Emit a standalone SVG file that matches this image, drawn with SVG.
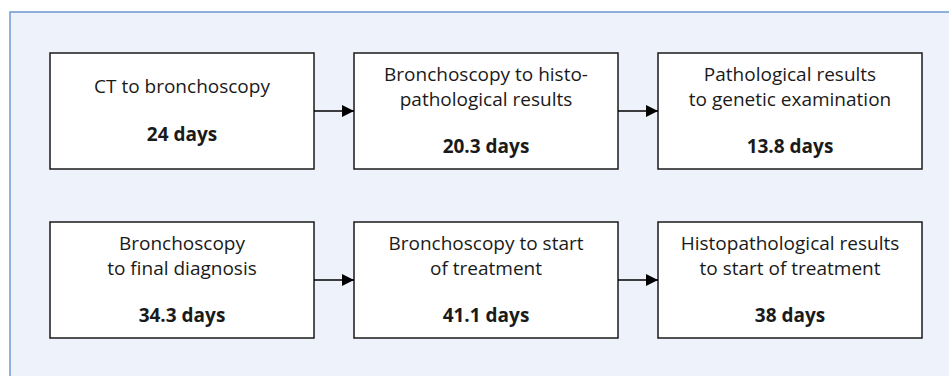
<svg xmlns="http://www.w3.org/2000/svg" width="949" height="376" viewBox="0 0 949 376">
<style>
.box{fill:#ffffff;stroke:#1a1a1a;stroke-width:1.5}
.t{font-family:"Open Sans","Noto Sans","DejaVu Sans",sans-serif;font-size:19px;fill:#1a1a1a;text-anchor:middle}
.b{font-weight:bold}
.c{stroke:#000;stroke-width:1.4;fill:none}
</style>
<defs>
<marker id="ah" markerWidth="12" markerHeight="12" refX="12" refY="6" orient="auto" markerUnits="userSpaceOnUse">
<path d="M0,0 L12,6 L0,12 Z" fill="#000"/>
</marker>
</defs>
<rect x="0" y="0" width="949" height="376" fill="#ffffff"/>
<rect x="10" y="12" width="950" height="380" fill="#eef2fa" stroke="#6d98d0" stroke-width="1.5"/>
<g id="n1"><rect class="box" x="50" y="53" width="264" height="116"/>
<text class="t" x="182" y="93">CT to bronchoscopy</text>
<text class="t b" x="182" y="141">24 days</text></g>
<g id="n2"><rect class="box" x="354" y="53" width="264" height="116"/>
<text class="t" x="486" y="81">Bronchoscopy to histo-</text>
<text class="t" x="486" y="105.5">pathological results</text>
<text class="t b" x="486" y="153">20.3 days</text></g>
<g id="n3"><rect class="box" x="658" y="53" width="264" height="116"/>
<text class="t" x="790" y="81">Pathological results</text>
<text class="t" x="790" y="105.5">to genetic examination</text>
<text class="t b" x="790" y="153">13.8 days</text></g>
<g id="n4"><rect class="box" x="50" y="222" width="264" height="116"/>
<text class="t" x="182" y="250">Bronchoscopy</text>
<text class="t" x="182" y="274.5">to final diagnosis</text>
<text class="t b" x="182" y="322">34.3 days</text></g>
<g id="n5"><rect class="box" x="354" y="222" width="264" height="116"/>
<text class="t" x="486" y="250">Bronchoscopy to start</text>
<text class="t" x="486" y="274.5">of treatment</text>
<text class="t b" x="486" y="322">41.1 days</text></g>
<g id="n6"><rect class="box" x="658" y="222" width="264" height="116"/>
<text class="t" x="790" y="250">Histopathological results</text>
<text class="t" x="790" y="274.5">to start of treatment</text>
<text class="t b" x="790" y="322">38 days</text></g>
<g id="connectors">
<line class="c" x1="314" y1="111" x2="354" y2="111" marker-end="url(#ah)"/>
<line class="c" x1="618" y1="111" x2="658" y2="111" marker-end="url(#ah)"/>
<line class="c" x1="314" y1="280" x2="354" y2="280" marker-end="url(#ah)"/>
<line class="c" x1="618" y1="280" x2="658" y2="280" marker-end="url(#ah)"/>
</g>
</svg>
